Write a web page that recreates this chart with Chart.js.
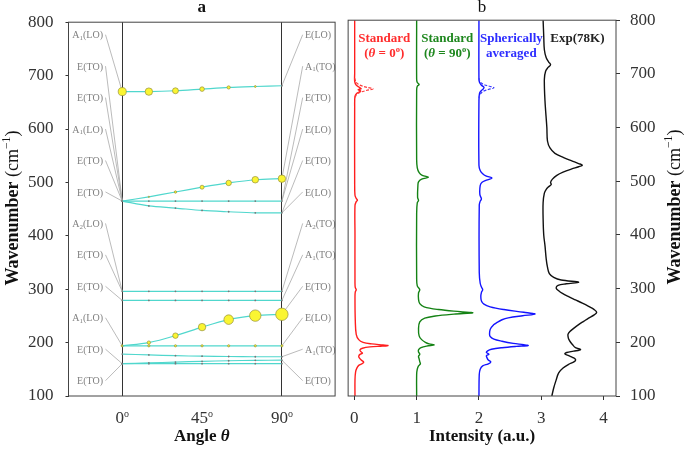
<!DOCTYPE html>
<html>
<head>
<meta charset="utf-8">
<script src="https://cdn.jsdelivr.net/npm/chart.js@4.4.0/dist/chart.umd.min.js"></script>
<style>
  body { margin: 0; background: #fff; }
  #wrap { position: relative; width: 685px; height: 455px; }
  .box { position: absolute; top: 0; height: 455px; }
</style>
</head>
<body>
<div id="wrap">
  <div class="box" style="left:0;width:342px"><canvas id="left_chart"></canvas></div>
  <div class="box" style="left:342px;width:343px"><canvas id="right_chart"></canvas></div>
</div>
<script>
// ---------- panel a : mode frequencies vs angle ----------
const angles = [0, 15, 30, 45, 60, 75, 90];
const angleTicks = [0, 45, 90];

const modeA = [670, 670, 671.6, 674.7, 677.8, 679.6, 681];
const modeAInt = [0.65, 0.6, 0.48, 0.37, 0.26, 0.15, 0];
const modeB = [465, 473, 482, 491, 499, 505, 507];
const modeBInt = [0, 0.1, 0.19, 0.32, 0.44, 0.53, 0.6];
const modeC = [465, 465, 465, 465, 465, 465, 465];
const modeD = [465, 456, 452, 447.5, 445, 443, 443];
const modeE = [296, 296, 296, 296, 296, 296, 296];
const modeF = [279, 279, 279, 279, 279, 279, 279];
const modeG = [194, 200, 213, 229, 243, 250.5, 253];
const modeGInt = [0.11, 0.27, 0.44, 0.6, 0.77, 0.92, 1.0];
const modeH = [194, 194, 194, 194, 194, 194, 194];
const modeHInt = [0.18, 0.18, 0.18, 0.18, 0.18, 0.18, 0.18];
const modeI = [178.5, 177, 175.5, 174.5, 174, 173.5, 173.5];
const modeJ = [160.5, 162, 163.5, 165, 166, 166.8, 167];
const modeK = [160.5, 160.5, 160.5, 160.5, 160.5, 160.5, 160.5];

const leftLabels = ['A1(LO)', 'E(TO)', 'E(TO)', 'A1(LO)', 'E(TO)', 'E(TO)', 'A2(LO)', 'E(TO)', 'E(TO)', 'A1(LO)', 'E(TO)', 'E(TO)'];
const leftTargets = [670, 465, 465, 465, 465, 465, 296, 296, 279, 194, 160.5, 160.5];
const rightLabels = ['E(LO)', 'A1(TO)', 'E(TO)', 'E(LO)', 'E(TO)', 'E(LO)', 'A2(TO)', 'A1(TO)', 'E(TO)', 'E(LO)', 'A1(TO)', 'E(TO)'];
const rightTargets = [681, 507, 465, 465, 443, 443, 296, 279, 253, 194, 173.5, 167];

const wavenumberTicks = [100, 200, 300, 400, 500, 600, 700, 800];

// ---------- panel b : spectra (wavenumber, intensity) ----------
const redWave = [800, 700, 686, 679, 675, 672.5, 670.5, 668, 664, 658, 640, 500, 474, 468, 465, 462, 455, 400, 310, 302, 298, 294, 285, 240, 215, 205, 200, 197, 195, 194, 193, 191.5, 189, 186, 183, 180, 177.5, 174, 171, 167, 163, 160.5, 157, 152, 145, 130, 100];
const redInt = [0.005, 0.005, 0.005, 0.03, 0.08, 0.11, 0.06, 0.1, 0.04, 0.01, 0.005, 0.005, 0.01, 0.03, 0.05, 0.03, 0.01, 0.01, 0.01, 0.015, 0.03, 0.015, 0.01, 0.015, 0.03, 0.07, 0.14, 0.28, 0.46, 0.54, 0.45, 0.25, 0.13, 0.09, 0.1, 0.13, 0.09, 0.07, 0.08, 0.11, 0.15, 0.13, 0.07, 0.04, 0.02, 0.01, 0.01];
const redDashWave = [692, 684, 679, 675, 672, 669, 665, 661, 654];
const redDashInt = [0.005, 0.03, 0.09, 0.2, 0.3, 0.19, 0.08, 0.03, 0.01];

const greenWave = [800, 690, 684, 680, 677, 670, 540, 525, 516, 511, 507.5, 504, 499, 492, 470, 464, 460, 440, 320, 305, 298, 292, 280, 272, 266, 261, 257, 255, 252.5, 249, 245, 238, 225, 212, 205, 200, 197, 195, 193, 190, 186, 182, 178, 174, 169, 164, 160, 156, 150, 140, 100];
const greenInt = [1.0, 1.0, 1.01, 1.04, 1.01, 1.0, 1.0, 1.01, 1.04, 1.09, 1.19, 1.08, 1.03, 1.02, 1.015, 1.03, 1.01, 1.0, 1.0, 1.01, 1.05, 1.03, 1.03, 1.05, 1.12, 1.35, 1.7, 1.9, 1.6, 1.3, 1.13, 1.05, 1.03, 1.04, 1.08, 1.14, 1.2, 1.28, 1.16, 1.07, 1.03, 1.03, 1.05, 1.03, 1.04, 1.05, 1.06, 1.03, 1.01, 1.0, 1.0];

const blueWave = [800, 690, 684, 679, 675, 672, 669, 664, 650, 530, 520, 514, 510, 506, 502, 498, 492, 475, 467, 463, 455, 330, 310, 303, 298, 293, 285, 277, 271, 266, 261, 256, 252.5, 249.5, 245.5, 242, 237, 233, 224, 215, 211, 206, 202, 198, 195.5, 194, 192.5, 190, 187, 184, 181, 178, 175, 171, 167, 163.5, 160, 156, 150, 140, 100];
const blueInt = [2.0, 2.0, 2.01, 2.04, 2.08, 2.07, 2.04, 2.01, 2.0, 2.0, 2.02, 2.06, 2.11, 2.21, 2.12, 2.05, 2.02, 2.015, 2.04, 2.02, 2.005, 2.005, 2.02, 2.04, 2.06, 2.04, 2.03, 2.04, 2.08, 2.18, 2.4, 2.72, 2.9, 2.7, 2.47, 2.37, 2.29, 2.24, 2.18, 2.17, 2.18, 2.24, 2.37, 2.55, 2.72, 2.79, 2.6, 2.37, 2.2, 2.14, 2.12, 2.16, 2.12, 2.13, 2.15, 2.19, 2.15, 2.06, 2.02, 2.005, 2.0];
const blueDashWave = [692, 685, 680, 677, 674, 671, 667, 662, 655];
const blueDashInt = [2.0, 2.02, 2.08, 2.17, 2.24, 2.15, 2.06, 2.02, 2.0];

const expWave = [800, 770, 745, 730, 722, 717, 712, 705, 690, 650, 600, 575, 562, 552, 544, 538, 533, 530, 527, 523, 517, 511, 504, 498, 494, 490, 485, 478, 460, 430, 400, 380, 355, 340, 328, 321, 316, 312, 309, 306, 301, 296, 291, 285, 279, 273, 267, 261, 256, 251, 245, 239, 233, 226, 220, 215, 211, 206, 202, 196, 190, 186.5, 183.5, 181, 178.5, 175, 172, 168, 164, 159, 152, 143, 130, 115, 100];
const expInt = [3.03, 3.04, 3.05, 3.08, 3.12, 3.15, 3.11, 3.07, 3.05, 3.06, 3.09, 3.1, 3.14, 3.22, 3.36, 3.49, 3.6, 3.66, 3.6, 3.49, 3.35, 3.25, 3.18, 3.15, 3.16, 3.12, 3.08, 3.05, 3.03, 3.03, 3.04, 3.06, 3.08, 3.1, 3.13, 3.2, 3.32, 3.6, 3.4, 3.27, 3.24, 3.28, 3.34, 3.44, 3.55, 3.66, 3.76, 3.85, 3.89, 3.85, 3.76, 3.68, 3.6, 3.52, 3.46, 3.43, 3.43, 3.44, 3.46, 3.5, 3.55, 3.63, 3.52, 3.41, 3.38, 3.44, 3.5, 3.55, 3.53, 3.44, 3.35, 3.28, 3.24, 3.2, 3.17];

const intensityTicks = [0, 1, 2, 3, 4];

// ---------- helpers ----------
const SERIF = "'Liberation Serif', 'DejaVu Serif', serif";
const TEXT = '#333';

function drawRich(ctx, parts, x, y, align) {
  let w = 0;
  parts.forEach(p => { ctx.font = p[1]; w += ctx.measureText(p[0]).width; });
  let cx = align === 'center' ? x - w / 2 : (align === 'right' ? x - w : x);
  ctx.textAlign = 'left';
  ctx.textBaseline = 'middle';
  parts.forEach(p => {
    ctx.font = p[1];
    ctx.fillText(p[0], cx, y + (p[2] || 0));
    cx += ctx.measureText(p[0]).width;
  });
}

function labelParts(lab) {
  const f = '10px ' + SERIF;
  if (/\d/.test(lab[1])) {
    return [[lab[0], f], [lab[1], '7px ' + SERIF, 2.5], [lab.slice(2), f]];
  }
  return [[lab, f]];
}

function degParts(v, font, small) {
  return [[String(v), font], ['o', small, -5]];
}

function xy(waves, ints) {
  return waves.map((w, i) => ({ x: ints[i], y: w }));
}

function wavenumberTitle(size) {
  return [
    ['Wavenumber', 'bold ' + size + 'px ' + SERIF],
    [' (cm', size + 'px ' + SERIF],
    ['\u22121', (size * 0.65) + 'px ' + SERIF, -size * 0.35],
    [')', size + 'px ' + SERIF]
  ];
}

// ---------- panel a ----------
const BUBBLE = 6.2;
const branches = [
  [modeA, modeAInt], [modeB, modeBInt], [modeC, null], [modeD, null],
  [modeE, null], [modeF, null], [modeG, modeGInt], [modeH, modeHInt],
  [modeI, null], [modeJ, null], [modeK, null]
];

const left_datasets = branches.map(([freq, inten]) => ({
  data: angles.map((a, i) => ({ x: a, y: freq[i] })),
  showLine: true,
  borderColor: 'rgb(80, 215, 205)',
  borderWidth: 1.2,
  tension: 0.3,
  pointRadius: ctx => (inten && inten[ctx.dataIndex] > 0) ? BUBBLE * inten[ctx.dataIndex] : 0.9,
  pointBackgroundColor: ctx => (inten && inten[ctx.dataIndex] > 0) ? 'rgb(250, 245, 50)' : '#777',
  pointBorderColor: ctx => (inten && inten[ctx.dataIndex] > 0) ? 'rgb(150, 145, 60)' : '#777',
  pointBorderWidth: ctx => (inten && inten[ctx.dataIndex] > 0) ? 0.7 : 0
}));

const leftDecor = {
  id: 'leftDecor',
  beforeDatasetsDraw(chart) {
    const { ctx, scales: { x, y } } = chart;
    ctx.save();
    ctx.strokeStyle = '#aaa';
    ctx.lineWidth = 0.8;
    ctx.fillStyle = '#808080';
    leftLabels.forEach((lab, i) => {
      const ly = 35.7 + i * 31.45;
      ctx.beginPath();
      ctx.moveTo(105.5, ly - 1);
      ctx.lineTo(x.getPixelForValue(0), y.getPixelForValue(leftTargets[i]));
      ctx.stroke();
      drawRich(ctx, labelParts(lab), 103, ly, 'right');
    });
    rightLabels.forEach((lab, i) => {
      const ly = 35.7 + i * 31.45;
      ctx.beginPath();
      ctx.moveTo(302.7, ly - 1);
      ctx.lineTo(x.getPixelForValue(90), y.getPixelForValue(rightTargets[i]));
      ctx.stroke();
      drawRich(ctx, labelParts(lab), 305, ly, 'left');
    });
    ctx.restore();
  },
  afterDraw(chart) {
    const { ctx, chartArea: a, scales: { x } } = chart;
    ctx.save();
    ctx.strokeStyle = '#444';
    ctx.lineWidth = 1;
    ctx.strokeRect(a.left, a.top, a.right - a.left, a.bottom - a.top);
    ctx.fillStyle = TEXT;
    angleTicks.forEach(v => {
      drawRich(ctx, degParts(v, '17px ' + SERIF, '10px ' + SERIF), x.getPixelForValue(v), 419, 'center');
    });
    ctx.fillStyle = '#111';
    drawRich(ctx, [['a', 'bold 17px ' + SERIF]], (a.left + a.right) / 2, 8, 'center');
    drawRich(ctx, [['Angle ', 'bold 17px ' + SERIF], ['\u03b8', 'italic bold 17px ' + SERIF]], (a.left + a.right) / 2, 437, 'center');
    ctx.translate(13, 208);
    ctx.rotate(-Math.PI / 2);
    drawRich(ctx, wavenumberTitle(18), 0, 0, 'center');
    ctx.restore();
  }
};

const left_chart = new Chart(document.getElementById('left_chart'), {
  type: 'scatter',
  data: { datasets: left_datasets },
  options: {
    responsive: true,
    maintainAspectRatio: false,
    animation: false,
    events: [],
    layout: { padding: { top: 17, right: 4, left: 0, bottom: 0 } },
    plugins: { legend: { display: false }, tooltip: { enabled: false } },
    scales: {
      x: {
        type: 'linear', min: -30.3, max: 120,
        afterBuildTicks: s => { s.ticks = [{ value: 0 }, { value: 90 }]; },
        afterFit: s => { s.height = 59; },
        ticks: { display: false },
        border: { display: false },
        grid: { color: '#333', lineWidth: 1, tickLength: 0 }
      },
      y: {
        type: 'linear', min: 100, max: 800,
        afterBuildTicks: s => { s.ticks = wavenumberTicks.map(v => ({ value: v })); },
        afterFit: s => { s.width = 68.5; },
        ticks: { color: TEXT, padding: 12, font: { family: SERIF, size: 17 } },
        border: { display: false },
        grid: { drawOnChartArea: false, tickLength: 3, color: '#333' }
      }
    }
  },
  plugins: [leftDecor]
});

// ---------- panel b ----------
const spectrumLine = (data, color, dashed) => ({
  data: data,
  showLine: true,
  borderColor: color,
  borderWidth: dashed ? 1.2 : 1.4,
  borderDash: dashed ? [3, 1.5] : [],
  tension: 0.35,
  pointRadius: 0
});

const specLabels = [
  { x: 0.48, color: 'rgb(255, 45, 45)', lines: [[['Standard', 'b']], [['(', 'b'], ['\u03b8', 'bi'], [' = 0', 'b'], ['o', 's', -4], [')', 'b']]] },
  { x: 1.49, color: 'rgb(30, 135, 30)', lines: [[['Standard', 'b']], [['(', 'b'], ['\u03b8', 'bi'], [' = 90', 'b'], ['o', 's', -4], [')', 'b']]] },
  { x: 2.52, color: 'rgb(45, 45, 255)', lines: [[['Spherically', 'b']], [['averaged', 'b']]] },
  { x: 3.58, color: '#222', lines: [[['Exp(78K)', 'b']]] }
];
const labelRows = [766, 737];

const rightDecor = {
  id: 'rightDecor',
  afterDraw(chart) {
    const { ctx, chartArea: a, scales: { x, y } } = chart;
    const fonts = { b: 'bold 13px ' + SERIF, bi: 'italic bold 13px ' + SERIF, s: 'bold 8.5px ' + SERIF };
    ctx.save();
    ctx.strokeStyle = '#444';
    ctx.lineWidth = 1;
    ctx.strokeRect(a.left, a.top, a.right - a.left, a.bottom - a.top);
    specLabels.forEach(l => {
      ctx.fillStyle = l.color;
      l.lines.forEach((parts, r) => {
        drawRich(ctx, parts.map(p => [p[0], fonts[p[1]], p[2] || 0]), x.getPixelForValue(l.x), y.getPixelForValue(labelRows[r]), 'center');
      });
    });
    ctx.fillStyle = '#111';
    drawRich(ctx, [['b', '17px ' + SERIF]], (a.left + a.right) / 2, 8, 'center');
    drawRich(ctx, [['Intensity', 'bold 17px ' + SERIF], [' (a.u.)', 'bold 17px ' + SERIF]], (a.left + a.right) / 2, 437, 'center');
    ctx.translate(333, 207);
    ctx.rotate(-Math.PI / 2);
    drawRich(ctx, wavenumberTitle(18), 0, 0, 'center');
    ctx.restore();
  }
};

const right_chart = new Chart(document.getElementById('right_chart'), {
  type: 'scatter',
  data: {
    datasets: [
      spectrumLine(xy(redDashWave, redDashInt), 'rgb(255, 60, 60)', true),
      spectrumLine(xy(blueDashWave, blueDashInt), 'rgb(60, 60, 255)', true),
      spectrumLine(xy(redWave, redInt), 'rgb(255, 30, 30)', false),
      spectrumLine(xy(greenWave, greenInt), 'rgb(20, 130, 20)', false),
      spectrumLine(xy(blueWave, blueInt), 'rgb(20, 20, 255)', false),
      spectrumLine(xy(expWave, expInt), '#111', false)
    ]
  },
  options: {
    responsive: true,
    maintainAspectRatio: false,
    animation: false,
    events: [],
    layout: { padding: { top: 17, right: 0, left: 4.7, bottom: 0 } },
    plugins: { legend: { display: false }, tooltip: { enabled: false } },
    scales: {
      x: {
        type: 'linear', min: -0.1, max: 4.2,
        afterBuildTicks: s => { s.ticks = intensityTicks.map(v => ({ value: v })); },
        afterFit: s => { s.height = 59; },
        ticks: { color: TEXT, padding: 8, font: { family: SERIF, size: 17 } },
        border: { display: false },
        grid: { drawOnChartArea: false, tickLength: 4, color: '#333' }
      },
      y: {
        type: 'linear', position: 'right', min: 100, max: 800,
        afterBuildTicks: s => { s.ticks = wavenumberTicks.map(v => ({ value: v })); },
        afterFit: s => { s.width = 69; },
        ticks: { color: TEXT, padding: 10, font: { family: SERIF, size: 17 } },
        border: { display: false },
        grid: { drawOnChartArea: false, tickLength: 4, color: '#333' }
      }
    }
  },
  plugins: [rightDecor]
});
</script>
</body>
</html>
